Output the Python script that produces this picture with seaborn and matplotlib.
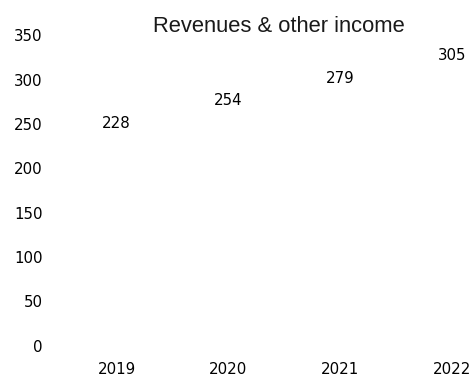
import matplotlib
matplotlib.use("Agg")
import matplotlib.pyplot as plt
import seaborn as sns
import pandas as pd

years = ["2019", "2020", "2021", "2022"]
values = [228, 254, 279, 305]
title = "Revenues & other income"
yticks = [0, 50, 100, 150, 200, 250, 300, 350]

sns.set_theme(style="white")
plt.rcParams['font.family'] = ['DejaVu Sans']

df = pd.DataFrame({"year": years, "value": values})

fig = plt.figure(figsize=(4.7, 3.78), dpi=100)
ax = fig.add_axes([60/470, 1-345.8/378, 1-60/470, (345.8-35.3)/378])
sns.lineplot(data=df, x="year", y="value", ax=ax, color="white", linewidth=0, sort=False)

for i, v in enumerate(values):
    ax.annotate(str(v), (i, v), xytext=(0, 14.5), textcoords="offset points",
                ha="center", va="center", fontsize=10.8, color="#000000")

ax.set_xlim(-0.5045, 3.16)
ax.set_ylim(0, 350)
ax.set_yticks(yticks)
ax.set_yticklabels([str(t) for t in yticks])
ax.tick_params(axis="y", pad=12.5, labelsize=10.8, length=0, colors="#000000")
ax.tick_params(axis="x", pad=11.5, labelsize=10.8, length=0, colors="#000000")
ax.set_xlabel("")
ax.set_ylabel("")
for s in ax.spines.values():
    s.set_visible(False)
ax.grid(False)

fig.text(279/470, 1-31.7/378, title, ha="center", va="baseline", fontsize=15.8,
         family=["Liberation Sans", "DejaVu Sans"], color="#1a1a1a")

fig.savefig("out.png", dpi=100)
